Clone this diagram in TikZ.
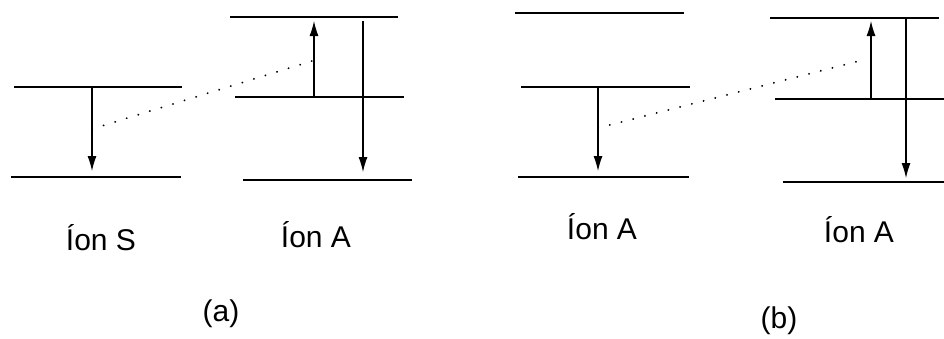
\documentclass[tikz,border=0pt]{standalone}
\usepackage{fontspec}
\setmainfont{Liberation Sans}
\usetikzlibrary{arrows.meta}
\begin{document}
\begin{tikzpicture}[x=1pt,y=-1pt,
  level/.style={line width=1.2pt},
  trans/.style={line width=1.1pt,-{Latex[length=15pt,width=9pt]}},
  transfer/.style={line width=2pt,line cap=round,dash pattern=on 0.1pt off 12pt},
  lbl/.style={font=\fontsize{30}{34}\selectfont,inner sep=0pt}]
\useasboundingbox (0,0) rectangle (944,338);
% ---- (a) ----
% Ion S
\coordinate (aS1l) at (14,87);  \coordinate (aS1r) at (182,87);
\coordinate (aS0l) at (11,177); \coordinate (aS0r) at (181,177);
\draw[level] (aS1l) -- (aS1r);
\draw[level] (aS0l) -- (aS0r);
\coordinate (aSt) at (92,87); \coordinate (aSb) at (92,171);
\draw[trans] (aSt) -- (aSb);
% Ion A
\coordinate (aA2l) at (230,17); \coordinate (aA2r) at (398,17);
\coordinate (aA1l) at (235,97); \coordinate (aA1r) at (404,97);
\coordinate (aA0l) at (243,180);\coordinate (aA0r) at (412,180);
\draw[level] (aA2l) -- (aA2r);
\draw[level] (aA1l) -- (aA1r);
\draw[level] (aA0l) -- (aA0r);
\coordinate (aAub) at (314,97); \coordinate (aAut) at (314,21);
\draw[trans] (aAub) -- (aAut);
\coordinate (aAdt) at (363,21); \coordinate (aAdb) at (363,172);
\draw[trans] (aAdt) -- (aAdb);
\coordinate (aD0) at (92,129); \coordinate (aD1) at (312,61);
\draw[transfer] (aD0) -- (aD1);
\node[lbl] (ionS) at (101,238) {Íon S};
\node[lbl] (ionAa) at (316,235) {Íon A};
\node[lbl] (capa) at (221,314) {(a)};
% ---- (b) ----
\coordinate (bL2l) at (515,13); \coordinate (bL2r) at (684,13);
\coordinate (bL1l) at (521,87); \coordinate (bL1r) at (690,87);
\coordinate (bL0l) at (518,177);\coordinate (bL0r) at (689,177);
\draw[level] (bL2l) -- (bL2r);
\draw[level] (bL1l) -- (bL1r);
\draw[level] (bL0l) -- (bL0r);
\coordinate (bLt) at (598,87); \coordinate (bLb) at (598,171);
\draw[trans] (bLt) -- (bLb);
\coordinate (bR2l) at (770,18); \coordinate (bR2r) at (939,18);
\coordinate (bR1l) at (775,99); \coordinate (bR1r) at (944,99);
\coordinate (bR0l) at (783,182);\coordinate (bR0r) at (944,182);
\draw[level] (bR2l) -- (bR2r);
\draw[level] (bR1l) -- (bR1r);
\draw[level] (bR0l) -- (bR0r);
\coordinate (bRub) at (871,99); \coordinate (bRut) at (871,21);
\draw[trans] (bRub) -- (bRut);
\coordinate (bRdt) at (906,18); \coordinate (bRdb) at (906,178);
\draw[trans] (bRdt) -- (bRdb);
\coordinate (bD0) at (598,128); \coordinate (bD1) at (859,61);
\draw[transfer] (bD0) -- (bD1);
\node[lbl] (ionAb1) at (602,227) {Íon A};
\node[lbl] (ionAb2) at (859,230) {Íon A};
\node[lbl] (capb) at (779,321) {(b)};
\end{tikzpicture}
\end{document}
